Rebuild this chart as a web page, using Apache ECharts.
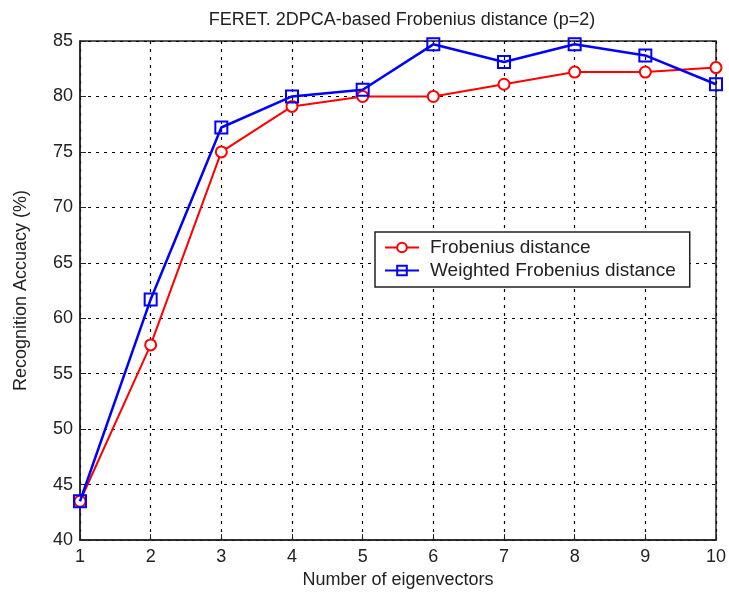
<!DOCTYPE html>
<html>
<head>
<meta charset="utf-8">
<script src="https://cdn.jsdelivr.net/npm/echarts@6/dist/echarts.min.js"></script>
<style>
  html, body { margin: 0; padding: 0; background: #fff; }
  #main { width: 729px; height: 594px; }
</style>
</head>
<body>
<div id="main"></div>
<script>
// data
var eigenvectors = [1, 2, 3, 4, 5, 6, 7, 8, 9, 10];
var frobenius = [43.5, 57.6, 75.0, 79.1, 80.0, 80.0, 81.1, 82.2, 82.2, 82.6];
var weightedFrobenius = [43.5, 61.7, 77.2, 80.0, 80.6, 84.7, 83.1, 84.7, 83.7, 81.1];
var yTicks = [40, 45, 50, 55, 60, 65, 70, 75, 80, 85];

var font = 'Liberation Sans, Arial, sans-serif';

function pairs(xs, ys) {
    return xs.map(function (x, i) { return [x, ys[i]]; });
}

var chart = echarts.init(document.getElementById('main'));

var gridLine = { show: true, lineStyle: { color: '#000', type: [3, 5], width: 1.2 } };

var option = {
    backgroundColor: '#fff',
    animation: false,
    title: {
        text: 'FERET. 2DPCA-based Frobenius distance (p=2)',
        left: 397, top: 6, textAlign: 'center',
        textStyle: { fontFamily: font, fontSize: 18, fontWeight: 'normal', color: '#222' }
    },
    grid: {
        left: 80, right: 12, top: 41, bottom: 52,
        show: true, borderColor: '#222', borderWidth: 1.5, backgroundColor: '#fff'
    },
    legend: {
        orient: 'vertical',
        left: 375, top: 232,
        padding: [6, 14, 7, 9],
        itemGap: 4,
        itemWidth: 34, itemHeight: 12,
        backgroundColor: '#fff',
        borderColor: '#222', borderWidth: 1.5, borderRadius: 0,
        textStyle: { fontFamily: font, fontSize: 19, color: '#222', padding: [0, 0, 0, 6] },
        data: ['Frobenius distance', 'Weighted Frobenius distance']
    },
    xAxis: {
        type: 'value',
        min: 1, max: 10, interval: 1,
        name: 'Number of eigenvectors',
        nameLocation: 'middle', nameGap: 30,
        nameTextStyle: { fontFamily: font, fontSize: 18, color: '#222' },
        axisLine: { lineStyle: { color: '#222', width: 1.5 } },
        axisTick: { inside: true, length: 6, lineStyle: { color: '#222' } },
        axisLabel: { fontFamily: font, fontSize: 18, color: '#222', margin: 8 },
        splitLine: gridLine
    },
    yAxis: {
        type: 'value',
        min: 40, max: 85, interval: 5,
        name: 'Recognition Accuacy (%)',
        nameLocation: 'middle', nameGap: 50,
        nameTextStyle: { fontFamily: font, fontSize: 18, color: '#222' },
        axisLine: { show: true, lineStyle: { color: '#222', width: 1.5 } },
        axisTick: { show: true, inside: true, length: 6, lineStyle: { color: '#222' } },
        axisLabel: {
            fontFamily: font, fontSize: 18, color: '#222', margin: 7,
            formatter: function (v) { return yTicks.indexOf(v) >= 0 ? String(v) : ''; }
        },
        splitLine: gridLine
    },
    series: [
        {
            name: 'Frobenius distance',
            type: 'line',
            data: pairs(eigenvectors, frobenius),
            color: '#ff0000',
            symbol: 'circle', symbolSize: 11,
            itemStyle: { color: '#fff', borderColor: '#ff0000', borderWidth: 2 },
            lineStyle: { color: '#ff0000', width: 2 },
            z: 3
        },
        {
            name: 'Weighted Frobenius distance',
            type: 'line',
            data: pairs(eigenvectors, weightedFrobenius),
            color: '#0000ff',
            symbol: 'rect', symbolSize: 12,
            itemStyle: { color: 'rgba(255,255,255,0)', borderColor: '#0000ff', borderWidth: 2 },
            lineStyle: { color: '#0000ff', width: 2.5 },
            z: 4
        }
    ]
};

chart.setOption(option);
</script>
</body>
</html>
